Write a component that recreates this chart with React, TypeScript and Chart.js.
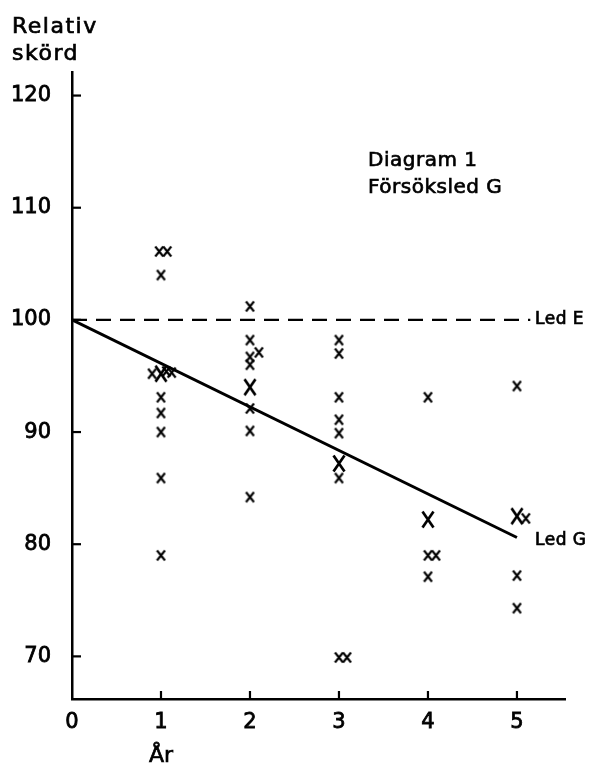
import React, { useEffect, useRef } from 'react';
import { Chart, registerables } from 'chart.js';
Chart.register(...registerables);

const yTicks = [70, 80, 90, 100, 110, 120];
const xTicks = [0, 1, 2, 3, 4, 5];

const smallX = [0.98, 1.07, 1.0, 0.9, 1.06, 1.12, 1.0, 1.0, 1.0, 1.0, 1.0,
  2.0, 2.0, 2.0, 2.0, 2.1, 2.0, 2.0, 2.0,
  3.0, 3.0, 3.0, 3.0, 3.0, 3.0, 3.0, 3.09,
  4.0, 4.0, 4.09, 4.0,
  5.0, 5.1, 5.0, 5.0];
const smallY = [106.1, 106.1, 104.0, 95.2, 95.4, 95.3, 93.1, 91.7, 90.0, 85.9, 79.0,
  101.2, 98.2, 96.7, 96.0, 97.1, 92.1, 90.1, 84.2,
  98.2, 97.0, 93.1, 91.1, 89.9, 85.9, 69.9, 69.9,
  93.1, 79.0, 79.0, 77.1,
  94.1, 82.3, 77.2, 74.3];
const bigX = [1, 2, 3, 4, 5];
const bigY = [95.2, 94.0, 87.2, 82.2, 82.5];

const ledGX = [0, 5];
const ledGY = [100, 80.6];
const ledEX = [0, 5.15];
const ledEY = [100, 100];

const titleLines = ['Diagram 1', 'Försöksled G'];
const yTitleLines = ['Relativ', 'skörd'];
const xTitle = 'År';
const xTitleAt = 1;
const ledELabel = 'Led E';
const ledGLabel = 'Led G';

const FONT = '"DejaVu Sans", sans-serif';

function makeCross(w: number, h: number, lw: number): HTMLCanvasElement {
  const c = document.createElement('canvas');
  c.width = w + 3;
  c.height = h + 3;
  const ctx = c.getContext('2d')!;
  ctx.strokeStyle = '#000';
  ctx.lineWidth = lw;
  ctx.lineCap = 'butt';
  ctx.beginPath();
  ctx.moveTo(1.5, 1.5);
  ctx.lineTo(w + 1.5, h + 1.5);
  ctx.moveTo(w + 1.5, 1.5);
  ctx.lineTo(1.5, h + 1.5);
  ctx.stroke();
  return c;
}

function boldText(ctx: CanvasRenderingContext2D, t: string, x: number, y: number) {
  ctx.fillText(t, x, y);
  ctx.strokeText(t, x, y);
}

const decorPlugin = {
  id: 'decor',
  afterDraw(chart: any) {
    const { ctx, scales } = chart;
    const xs = scales.x;
    const ys = scales.y;
    const area = chart.chartArea;
    ctx.save();
    ctx.setLineDash([]);
    ctx.fillStyle = '#000';
    yTicks.forEach((v) => {
      const py = ys.getPixelForValue(v);
      ctx.fillRect(area.left, py - 1.1, 9, 2.2);
    });
    xTicks.forEach((v) => {
      if (v === 0) return;
      const px = xs.getPixelForValue(v);
      ctx.fillRect(px - 1.1, area.bottom - 8, 2.2, 8);
    });

    ctx.strokeStyle = '#000';
    ctx.lineWidth = 0.7;
    ctx.textAlign = 'left';
    ctx.textBaseline = 'alphabetic';
    try { (ctx as any).letterSpacing = '1.5px'; } catch (e) {}
    ctx.font = '22px ' + FONT;
    boldText(ctx, yTitleLines[0], 12, 33);
    boldText(ctx, yTitleLines[1], 12, 60);

    try { (ctx as any).letterSpacing = '0.5px'; } catch (e) {}
    ctx.font = '20px ' + FONT;
    boldText(ctx, titleLines[0], 368, 166);
    boldText(ctx, titleLines[1], 368, 193);

    ctx.font = '17px ' + FONT;
    ctx.textBaseline = 'middle';
    boldText(ctx, ledELabel, 535, ys.getPixelForValue(ledEY[1]));
    boldText(ctx, ledGLabel, 535, ys.getPixelForValue(ledGY[1]) + 3);

    try { (ctx as any).letterSpacing = '0px'; } catch (e) {}
    ctx.font = '22px ' + FONT;
    ctx.textAlign = 'center';
    ctx.textBaseline = 'alphabetic';
    boldText(ctx, xTitle, xs.getPixelForValue(xTitleAt), 762);
    ctx.restore();
  },
};

export default function App() {
  const ref = useRef<HTMLCanvasElement | null>(null);
  useEffect(() => {
    if (!ref.current) return;
    const smallStyle = makeCross(8, 10, 2.1);
    const bigStyle = makeCross(11, 16, 2.7);
    const tickFont = { family: FONT, size: 21 };
    const chart = new Chart(ref.current, {
      type: 'scatter',
      data: {
        datasets: [
          {
            label: 'small',
            data: smallX.map((x, i) => ({ x, y: smallY[i] })),
            pointStyle: smallStyle as any,
            pointRadius: 5,
            showLine: false,
          },
          {
            label: 'big',
            data: bigX.map((x, i) => ({ x, y: bigY[i] })),
            pointStyle: bigStyle as any,
            pointRadius: 8,
            showLine: false,
          },
          {
            label: ledGLabel,
            data: ledGX.map((x, i) => ({ x, y: ledGY[i] })),
            showLine: true,
            borderColor: '#000',
            borderWidth: 3,
            pointRadius: 0,
          },
          {
            label: ledELabel,
            data: ledEX.map((x, i) => ({ x, y: ledEY[i] })),
            showLine: true,
            borderColor: '#000',
            borderWidth: 2.3,
            borderDash: [15, 9],
            pointRadius: 0,
          },
        ],
      },
      options: {
        responsive: false,
        animation: false,
        layout: { padding: { top: 72, right: 27, left: 0, bottom: 0 } },
        plugins: {
          legend: { display: false },
          tooltip: { enabled: false },
          title: { display: false },
        },
        scales: {
          x: {
            type: 'linear',
            min: 0,
            max: 5.54,
            grid: { display: false, drawTicks: false },
            border: { display: true, color: '#000', width: 2.5 },
            ticks: {
              color: '#000',
              font: tickFont,
              padding: 11,
              textStrokeColor: '#000',
              textStrokeWidth: 0.8,
            } as any,
            afterBuildTicks: (s: any) => {
              s.ticks = xTicks.map((v) => ({ value: v }));
            },
            afterFit: (s: any) => {
              s.height = 72;
            },
          },
          y: {
            type: 'linear',
            min: 66.2,
            max: 122.1,
            grid: { display: false, drawTicks: false },
            border: { display: true, color: '#000', width: 2.5 },
            ticks: {
              color: '#000',
              font: tickFont,
              padding: 21,
              textStrokeColor: '#000',
              textStrokeWidth: 0.8,
            } as any,
            afterBuildTicks: (s: any) => {
              s.ticks = yTicks.map((v) => ({ value: v }));
            },
            afterFit: (s: any) => {
              s.width = 72;
            },
          },
        },
      },
      plugins: [decorPlugin],
    });
    return () => chart.destroy();
  }, []);
  return (
    <div style={{ position: 'absolute', left: 0, top: 0, width: 592, height: 771, background: '#fff' }}>
      <canvas ref={ref} width={592} height={771} />
    </div>
  );
}
